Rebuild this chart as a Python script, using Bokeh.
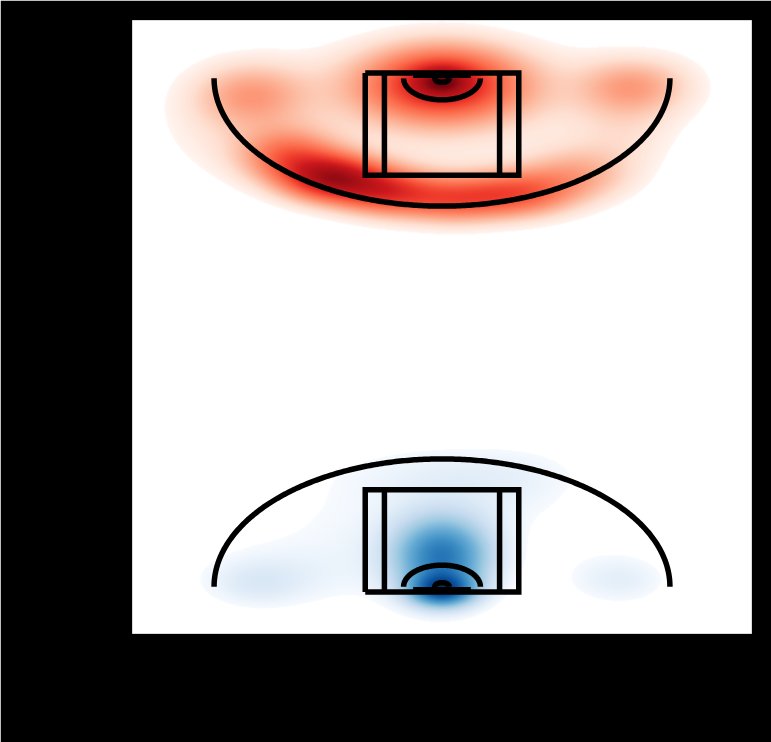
import numpy as np
from bokeh.plotting import figure
from bokeh.models import LinearColorMapper, Range1d
from bokeh.palettes import Reds256, Blues256
from bokeh.embed import file_html
from bokeh.resources import INLINE

# ---------------- court dimensions (feet) ----------------
X_MIN, X_MAX = -32.25, 32.25
Y_MIN, Y_MAX = -7.7, 106.25
COURT_LENGTH = 96.5          # baseline to baseline in plot units
MID_Y = COURT_LENGTH / 2
THREE_PT_RADIUS = 23.75
KEY_HALF_WIDTH = 8.0
INNER_KEY_HALF_WIDTH = 6.0
KEY_LENGTH = 19.0
RESTRICTED_RADIUS = 4.0
HOOP_RADIUS = 0.75
HOOP_DIST = 1.0              # hoop centre from baseline
BACKBOARD_HALF_WIDTH = 3.0
BACKBOARD_DIST = 0.45

# ---------------- shot-density hotspots ----------------
# top court (red): u = lateral ft, d = distance from top baseline (ft)
RED_U  = [0.0, 0.0, -16.0, -11.5, -6.0, 1.0, 8.0, 14.0, -20.0, 19.5, -18.0, 18.0, 0.0, -23.0, 19.0, 24.0]
RED_D  = [1.5, 2.0, 15.5, 19.5, 22.0, 23.5, 22.5, 19.0, 4.0, 2.5, 5.0, 3.0, 12.0, 12.0, 12.0, 2.0]
RED_SU = [2.0, 6.0, 3.5, 3.5, 3.5, 4.0, 4.0, 4.0, 4.0, 3.5, 7.0, 7.0, 10.0, 5.0, 4.0, 3.0]
RED_SD = [2.0, 5.0, 3.5, 3.0, 3.0, 3.0, 3.0, 3.5, 4.0, 3.5, 7.0, 6.0, 10.0, 6.0, 5.0, 4.0]
RED_W  = [0.50, 1.00, 0.55, 1.05, 0.70, 0.60, 0.60, 0.32, 0.32, 0.30, 0.10, 0.10, 0.08, 0.08, 0.12, 0.06]

# bottom court (blue): u = lateral ft, d = distance from bottom baseline (ft)
BLUE_U  = [0.0, 0.0, -19.5, 19.0, -6.0, 2.0, -18.0, 18.0, 8.0]
BLUE_D  = [0.3, 6.5, 1.2, 1.8, 10.0, 22.0, 3.0, 3.0, 18.0]
BLUE_SU = [2.2, 3.4, 3.5, 3.5, 10.0, 9.0, 6.0, 4.0, 5.0]
BLUE_SD = [2.0, 5.0, 3.0, 3.0, 9.0, 4.0, 4.0, 4.0, 6.0]
BLUE_W  = [0.60, 0.55, 0.06, 0.04, 0.06, 0.06, 0.05, 0.05, 0.03]

THRESH = 0.05
GAMMA = 0.65

p = figure(width=771, height=742, output_backend="svg", toolbar_location=None,
           x_range=Range1d(X_MIN, X_MAX), y_range=Range1d(Y_MIN, Y_MAX),
           min_border_left=132, min_border_right=20, min_border_top=20,
           min_border_bottom=109)
p.border_fill_color = "black"
p.background_fill_color = "white"
p.outline_line_color = "#d9d9d9"
p.xaxis.visible = False
p.yaxis.visible = False
p.xgrid.visible = False
p.ygrid.visible = False

NX = 620


def density_image(us, ds, sus, sds, ws, y0, y1, baseline, direction):
    ny = int(round((y1 - y0) / (Y_MAX - Y_MIN) * 613))
    xs = np.linspace(X_MIN, X_MAX, NX)
    ys = np.linspace(y0, y1, ny)
    X, Y = np.meshgrid(xs, ys)
    D = (Y - baseline) * direction
    dens = np.zeros_like(X)
    for u, d, su, sd, w in zip(us, ds, sus, sds, ws):
        dens += w * np.exp(-0.5 * ((X - u) / su) ** 2 - 0.5 * ((D - d) / sd) ** 2)
    val = dens / dens.max()
    val = np.where(val < THRESH, np.nan, val ** GAMMA)
    return val


def add_density(us, ds, sus, sds, ws, y0, y1, baseline, direction, palette):
    img = density_image(us, ds, sus, sds, ws, y0, y1, baseline, direction)
    mapper = LinearColorMapper(palette=palette, low=THRESH ** GAMMA, high=1.0,
                               nan_color=(0, 0, 0, 0))
    p.image(image=[img], x=X_MIN, y=y0, dw=X_MAX - X_MIN, dh=y1 - y0,
            color_mapper=mapper)


add_density(RED_U, RED_D, RED_SU, RED_SD, RED_W, MID_Y, Y_MAX, COURT_LENGTH, -1,
            list(reversed(Reds256)))
add_density(BLUE_U, BLUE_D, BLUE_SU, BLUE_SD, BLUE_W, Y_MIN, MID_Y, 0.0, 1,
            list(reversed(Blues256)))


def court(baseline, direction):
    def yy(d):
        return list(baseline + direction * np.asarray(d, dtype=float))
    xs, ys = [], []
    k, ik, kl = KEY_HALF_WIDTH, INNER_KEY_HALF_WIDTH, KEY_LENGTH
    xs.append([-k, -k, k, k, -k]); ys.append(yy([0, kl, kl, 0, 0]))
    xs.append([-ik, -ik]); ys.append(yy([0, kl]))
    xs.append([ik, ik]); ys.append(yy([0, kl]))
    xs.append([-BACKBOARD_HALF_WIDTH, BACKBOARD_HALF_WIDTH])
    ys.append(yy([BACKBOARD_DIST, BACKBOARD_DIST]))
    t = np.linspace(0, 2 * np.pi, 60)
    xs.append(list(HOOP_RADIUS * np.cos(t))); ys.append(yy(HOOP_DIST + HOOP_RADIUS * np.sin(t)))
    t = np.linspace(0, np.pi, 120)
    xs.append(list(RESTRICTED_RADIUS * np.cos(t)))
    ys.append(yy(HOOP_DIST + RESTRICTED_RADIUS * np.sin(t)))
    t = np.linspace(0, np.pi, 300)
    xs.append(list(THREE_PT_RADIUS * np.cos(t)))
    ys.append(yy(HOOP_DIST + THREE_PT_RADIUS * np.sin(t)))
    return xs, ys


for base, direc in [(COURT_LENGTH, -1), (0.0, 1)]:
    cx, cy = court(base, direc)
    p.multi_line(xs=cx, ys=cy, line_color="black", line_width=5.5,
                 line_join="miter", line_cap="butt")

open("out.html", "w").write(file_html(p, INLINE))
